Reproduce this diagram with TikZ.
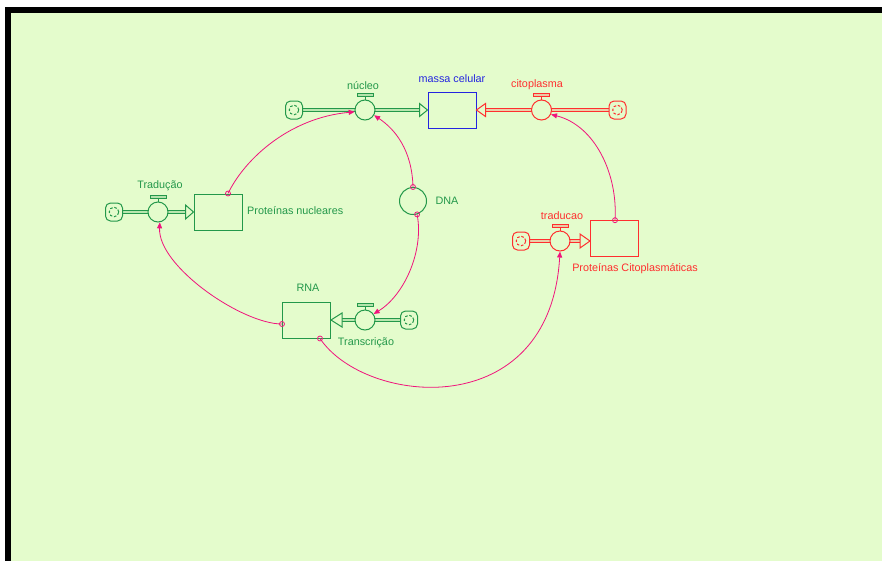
\documentclass[tikz,border=0pt]{standalone}
\usepackage{fontspec}
\setmainfont{Liberation Sans}
\usetikzlibrary{arrows.meta}
\definecolor{bg}{HTML}{E4FCCC}
\definecolor{sgreen}{HTML}{23984A}
\definecolor{sred}{HTML}{FF2E2E}
\definecolor{sblue}{HTML}{2424E0}
\definecolor{lnk}{HTML}{F0147C}
\tikzset{
 stock/.style={draw=#1, line width=1pt, fill=bg, minimum width=48pt, minimum height=36pt, inner sep=0pt},
 valve/.style={circle, draw=#1, line width=1pt, fill=bg, minimum size=20pt, inner sep=0pt},
 cloudbox/.style={draw=#1, line width=1pt, fill=bg, rounded corners=5pt, minimum width=17pt, minimum height=18pt, inner sep=0pt,
   path picture={\draw[#1, dash pattern=on 2.6pt off 1.8pt, line width=1pt] (path picture bounding box.center) circle (4.8pt);}},
 pipe/.style={draw=#1, line width=1pt, double=#1!22!bg, double distance=1.8pt},
 lbl/.style={font=\fontsize{10.8}{12}\selectfont, inner sep=0pt},
 lnkline/.style={draw=lnk, line width=0.8pt, -{Triangle[length=6pt,width=5pt]}},
 lnkdot/.style={circle, draw=lnk, line width=0.8pt, minimum size=5pt, inner sep=0pt},
 headbox/.style={draw=#1, fill=bg, line width=1pt, line join=miter},
}
\begin{document}
\begin{tikzpicture}[x=1pt,y=-1pt]
\useasboundingbox (0,0) rectangle (882,560);
\fill[white] (-5,-5) rectangle (890,570);
\fill[black] (4.5,6.7) rectangle (890,570);
\fill[bg] (11.2,12.7) rectangle (890,570);

% stocks
\node[stock=sblue]  (mc)  at (452,110) {};
\node[stock=sgreen] (pn)  at (218,212) {};
\node[stock=sgreen] (rna) at (306.5,320) {};
\node[stock=sred]   (pc)  at (614.5,238.7) {};

% cloud positions
\coordinate (ncp) at (294,110);
\coordinate (ccp) at (617.5,110);
\coordinate (tcp) at (114,212);
\coordinate (trcp) at (409,320);
\coordinate (dcp) at (521,241);

% pipes
\draw[pipe=sgreen] (ncp) -- ([xshift=-8pt]mc.west);
\draw[pipe=sred] (ccp) -- ([xshift=9pt]mc.east);
\draw[pipe=sgreen] (tcp) -- ([xshift=-8pt]pn.west);
\draw[pipe=sgreen] (trcp) -- ([xshift=11pt]rna.east);
\draw[pipe=sred] (dcp) -- ([xshift=-10pt]pc.west |- dcp);

% pipe heads
\draw[headbox=sgreen] (mc.west) -- ++(-8,-6.5) -- ++(0,13) -- cycle;
\draw[headbox=sred] (mc.east) -- ++(9,-6.5) -- ++(0,13) -- cycle;
\draw[headbox=sgreen] (pn.west) -- ++(-8,-7) -- ++(0,14) -- cycle;
\draw[headbox=sgreen] (rna.east) -- ++(11,-7) -- ++(0,14) -- cycle;
\draw[headbox=sred] (pc.west |- dcp) -- ++(-10,-7) -- ++(0,14) -- cycle;

% clouds
\node[cloudbox=sgreen] (nc) at (ncp) {};
\node[cloudbox=sred] (cc) at (ccp) {};
\node[cloudbox=sgreen] (tc) at (tcp) {};
\node[cloudbox=sgreen] (trc) at (trcp) {};
\node[cloudbox=sred] (dc) at (dcp) {};

% valves
\node[valve=sgreen] (nv) at (365,110) {};
\node[valve=sred] (cv) at (541.5,110) {};
\node[valve=sgreen] (tv) at (158,212) {};
\node[valve=sgreen] (trv) at (365,320) {};
\node[valve=sred] (dv) at (560,241) {};
\foreach \v/\c in {nv/sgreen, cv/sred, tv/sgreen, trv/sgreen, dv/sred}{
  \draw[\c, line width=1pt] (\v.north) -- ++(0,-3.5);
  \draw[\c, line width=0.9pt, fill=\c!25!bg] ([yshift=3.5pt]\v.north) ++(-8,0) rectangle ++(16,-3);
}

% converter
\node[circle, draw=sgreen, line width=1pt, fill=bg, minimum size=27pt, inner sep=0pt] (dna) at (413,201) {};

% labels
\node[lbl, text=sgreen] (lnv) at (363,86) {núcleo};
\node[lbl, text=sblue] (lmc) at (452,78.5) {massa celular};
\node[lbl, text=sred] (lcv) at (537,85) {citoplasma};
\node[lbl, text=sgreen] (ltv) at (160,186) {Tradução};
\node[lbl, text=sgreen, anchor=west] (lpn) at (247,211) {Proteínas nucleares};
\node[lbl, text=sgreen] (ldna) at (447,201) {DNA};
\node[lbl, text=sgreen] (lrna) at (308,288) {RNA};
\node[lbl, text=sgreen] (ltrv) at (366,343) {Transcrição};
\node[lbl, text=sred] (ldv) at (562,216) {traducao};
\node[lbl, text=sred] (lpc) at (635,269) {Proteínas Citoplasmáticas};

% connectors
\coordinate (s1) at ([xshift=10pt]pn.north);
\coordinate (s2) at (dna.north);
\coordinate (s3) at (dna.-73);
\coordinate (s4) at ([yshift=-4pt]rna.west);
\coordinate (s5) at ([xshift=13.5pt]rna.south);
\coordinate (s6) at ([xshift=0.5pt]pc.north);

\draw[lnkline] (s1) .. controls +(17,-35) and +(-65,6) .. (nv.190);
\draw[lnkline] (s2) .. controls +(-1,-37) and +(21,14) .. (nv.-30);
\draw[lnkline] (s3) .. controls +(7,36) and +(31,-19) .. (trv.35);
\draw[lnkline] (s4) .. controls +(-40,0) and +(-2,44) .. (tv.-80);
\draw[lnkline] (s5) .. controls +(45,67) and +(-10,173) .. (dv.-90);
\draw[lnkline] (s6) .. controls +(3,-46) and +(44,11) .. (cv.-25);

\foreach \s in {s1,s2,s3,s4,s5,s6}{
  \node[lnkdot] at (\s) {};
}
\end{tikzpicture}
\end{document}
